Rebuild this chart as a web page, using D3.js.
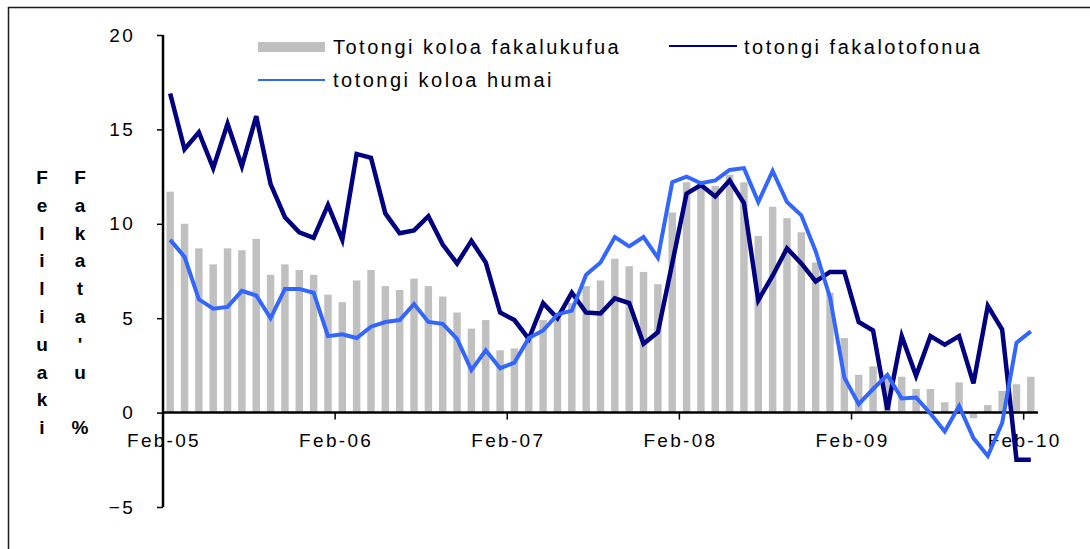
<!DOCTYPE html>
<html>
  <head>
    <meta charset="utf-8">
    <script type="text/javascript" src="https://cdn.jsdelivr.net/npm/d3@7/dist/d3.min.js"></script>
    <style>
      body { margin: 0; background: #fff; }
      text { font-family: Arial, "Liberation Sans", sans-serif; fill: #000; }
      .tick-label { font-size: 19px; letter-spacing: 2.3px; }
      .legend text { font-size: 20px; letter-spacing: 2.5px; }
      .ytitle { font-size: 19px; font-weight: bold; }
    </style>
  </head>
  <body>
    <div id="chart"></div>
  <script>
  (function (d3) {
    'use strict';

    // data
    var months = d3.timeMonth.range(new Date(2005, 1, 1), new Date(2010, 2, 1));
    var tickLabels = ['Feb-05', 'Feb-06', 'Feb-07', 'Feb-08', 'Feb-09', 'Feb-10'];
    var yTicks = [20, 15, 10, 5, 0, -5];

    // Totongi koloa fakalukufua (bars)
    var fakalukufua = [11.7, 10.0, 8.7, 7.85, 8.7, 8.6, 9.2, 7.3, 7.85, 7.55,
      7.3, 6.25, 5.85, 7.0, 7.55, 6.7, 6.5, 7.1, 6.7, 6.15,
      5.3, 4.45, 4.9, 3.3, 3.4, 4.1, 4.9, 5.1, 5.8, 6.7,
      7.0, 8.15, 7.75, 7.45, 6.8, 10.6, 12.2, 12.1, 12.0, 12.6,
      12.2, 9.35, 10.9, 10.3, 9.55, 7.95, 6.35, 3.95, 2.0, 2.45,
      1.9, 1.9, 1.25, 1.25, 0.55, 1.6, -0.3, 0.4, 1.15, 1.5, 1.9];

    // totongi fakalotofonua (dark line)
    var fakalotofonua = [16.9, 13.95, 14.85, 12.95, 15.3, 13.05, 15.7, 12.1, 10.35, 9.55,
      9.25, 11.0, 9.15, 13.7, 13.5, 10.55, 9.5, 9.65, 10.4, 8.9,
      7.9, 9.1, 7.95, 5.3, 4.9, 3.9, 5.8, 5.0, 6.35, 5.3,
      5.25, 6.05, 5.8, 3.65, 4.25, 7.9, 11.6, 12.05, 11.45, 12.3,
      11.1, 5.95, 7.25, 8.7, 7.9, 6.95, 7.45, 7.45, 4.8, 4.35,
      0.15, 4.05, 1.95, 4.05, 3.6, 4.05, 1.55, 5.65, 4.4, -2.5, -2.5];

    // totongi koloa humai (light line)
    var humai = [9.15, 8.25, 6.0, 5.5, 5.6, 6.45, 6.2, 5.0, 6.55, 6.55,
      6.35, 4.05, 4.15, 3.95, 4.55, 4.8, 4.9, 5.75, 4.8, 4.7,
      3.9, 2.25, 3.3, 2.35, 2.65, 3.95, 4.35, 5.2, 5.4, 7.3,
      7.95, 9.3, 8.8, 9.3, 8.2, 12.2, 12.5, 12.15, 12.3, 12.85,
      12.95, 11.15, 12.8, 11.15, 10.45, 8.55, 6.1, 1.85, 0.45, 1.25,
      2.0, 0.75, 0.8, -0.05, -1.0, 0.35, -1.35, -2.3, -0.55, 3.7, 4.3];

    var seriesNames = ['Totongi koloa fakalukufua', 'totongi fakalotofonua', 'totongi koloa humai'];
    var yTitle1 = 'Feliliuaki';
    var yTitle2 = "Fakata'u %";

    var width = 1090;
    var height = 549;
    var left = 163, right = 1038, top = 35, bottom = 507;
    var darkBlue = '#000080';
    var lightBlue = '#3366ff';
    var barGrey = '#c0c0c0';

    var svg = d3.select('#chart')
      .append('svg')
      .attr('width', width)
      .attr('height', height);

    // outer frame
    svg.append('rect')
      .attr('x', 8.5).attr('y', 7.5)
      .attr('width', width + 10).attr('height', height + 10)
      .attr('fill', 'none')
      .attr('stroke', '#1a1a1a')
      .attr('stroke-width', 1.5);

    var x = d3.scaleBand()
      .domain(months)
      .range([left, right])
      .paddingInner(0.48)
      .paddingOuter(0.24);

    var y = d3.scaleLinear().domain([-5, 20]).range([bottom, top]);

    var cx = function (d, i) { return x(months[i]) + x.bandwidth() / 2; };

    // bars
    svg.append('g')
      .selectAll('rect')
      .data(fakalukufua)
      .enter()
      .append('rect')
      .attr('x', function (d, i) { return x(months[i]); })
      .attr('width', x.bandwidth())
      .attr('y', function (d) { return y(Math.max(0, d)); })
      .attr('height', function (d) { return Math.abs(y(d) - y(0)); })
      .attr('fill', barGrey);

    // y axis
    var yAxis = svg.append('g')
      .attr('transform', 'translate(' + left + ',0)')
      .call(d3.axisLeft(y).tickValues(yTicks).tickSize(6).tickPadding(22).tickFormat(d3.format('d')));
    yAxis.select('.domain').attr('stroke', '#000').attr('stroke-width', 2.5)
      .attr('d', 'M0,' + y(20) + 'V' + y(-5));
    yAxis.selectAll('.tick line').attr('stroke', '#000').attr('stroke-width', 1.5);
    yAxis.selectAll('.tick text').attr('class', 'tick-label').attr('font-size', null).attr('font-family', null);

    // x axis at zero, ticks between categories every 12 months
    var step = x.step();
    var tickX = tickLabels.map(function (d, k) { return left + k * 12 * step; });
    var xAxis = svg.append('g');
    xAxis.append('line')
      .attr('x1', left).attr('x2', right)
      .attr('y1', y(0)).attr('y2', y(0))
      .attr('stroke', '#000').attr('stroke-width', 2.5);
    xAxis.selectAll('.xt')
      .data(tickX)
      .enter()
      .append('line')
      .attr('x1', function (d) { return d; }).attr('x2', function (d) { return d; })
      .attr('y1', y(0)).attr('y2', y(0) + 7)
      .attr('stroke', '#000').attr('stroke-width', 1.5);
    xAxis.selectAll('text')
      .data(tickLabels)
      .enter()
      .append('text')
      .attr('class', 'tick-label')
      .attr('x', function (d, k) { return tickX[k] + 1; })
      .attr('y', 447)
      .attr('text-anchor', 'middle')
      .text(function (d) { return d; });

    // lines
    var line = function (vals) {
      return d3.line()
        .x(function (d, i) { return cx(d, i); })
        .y(function (d) { return y(d); })(vals);
    };
    svg.append('path')
      .attr('d', line(fakalotofonua))
      .attr('fill', 'none')
      .attr('stroke', darkBlue)
      .attr('stroke-width', 4.5)
      .attr('stroke-linejoin', 'miter');
    svg.append('path')
      .attr('d', line(humai))
      .attr('fill', 'none')
      .attr('stroke', lightBlue)
      .attr('stroke-width', 4)
      .attr('stroke-linejoin', 'miter');

    // legend
    var legend = svg.append('g').attr('class', 'legend');
    legend.append('rect')
      .attr('x', 258).attr('y', 42)
      .attr('width', 67).attr('height', 10)
      .attr('fill', barGrey);
    legend.append('text').attr('x', 333).attr('y', 54).text(seriesNames[0]);
    legend.append('line')
      .attr('x1', 669).attr('x2', 737).attr('y1', 46).attr('y2', 46)
      .attr('stroke', darkBlue).attr('stroke-width', 2);
    legend.append('text').attr('x', 744).attr('y', 54).text(seriesNames[1]);
    legend.append('line')
      .attr('x1', 258).attr('x2', 325).attr('y1', 80).attr('y2', 80)
      .attr('stroke', lightBlue).attr('stroke-width', 2);
    legend.append('text').attr('x', 333).attr('y', 87).text(seriesNames[2]);

    // stacked y titles
    var titleCols = [{ s: yTitle1, x: 42 }, { s: yTitle2, x: 80 }];
    titleCols.forEach(function (c) {
      svg.append('g').selectAll('text')
        .data(c.s.split(''))
        .enter()
        .append('text')
        .attr('class', 'ytitle')
        .attr('x', c.x)
        .attr('y', function (d, i) { return 184 + i * 27.8; })
        .attr('text-anchor', 'middle')
        .text(function (d) { return d; });
    });

  })(window.d3);
  </script>
  </body>
</html>
